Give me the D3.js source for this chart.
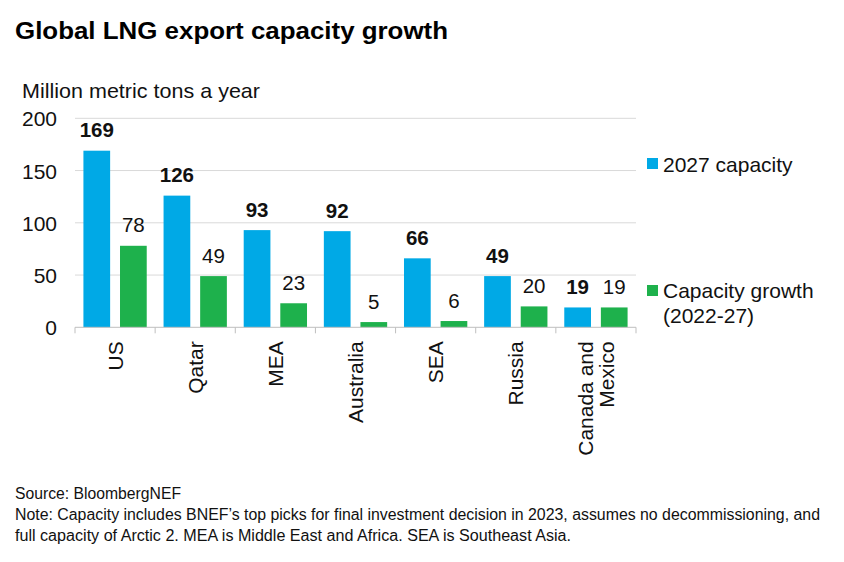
<!DOCTYPE html>
<html><head><meta charset="utf-8">
<script src="https://cdn.jsdelivr.net/npm/d3@7"></script>
<style>body{margin:0;background:#fff;}svg{display:block;font-family:"Liberation Sans",Arial,sans-serif;}</style>
</head><body>
<svg id="c" width="844" height="562"></svg>
<script>
const categories = ["US","Qatar","MEA","Australia","SEA","Russia","Canada and|Mexico"];
const capacity2027 = [169,126,93,92,66,49,19];
const growth = [78,49,23,5,6,20,19];
const yTicks = [0,50,100,150,200];
const seriesNames = ["2027 capacity","Capacity growth|(2022-27)"];
const colors = ["#00A9E6","#1EB14C"];

const svg = d3.select("#c");
const x0 = 75, x1 = 636, yB = 327.3, yT = 118.3;
const FS = 21;
const x = d3.scaleBand().domain(categories).range([x0,x1]).paddingInner(0).paddingOuter(0);
const inner = d3.scaleBand().domain([0,1]).range([0,x.bandwidth()]).paddingInner(0.27).paddingOuter(0.23);
const y = d3.scaleLinear().domain([0,200]).range([yB,yT]);

svg.append("text").attr("x",15).attr("y",39).attr("font-size",24).attr("font-weight","bold").attr("fill","#000")
  .attr("textLength",433).attr("lengthAdjust","spacingAndGlyphs")
  .text("Global LNG export capacity growth");
svg.append("text").attr("x",22).attr("y",98).attr("font-size",FS).attr("fill","#111")
  .attr("textLength",238).attr("lengthAdjust","spacingAndGlyphs").text("Million metric tons a year");

// grid
svg.append("g").selectAll("line").data(yTicks.filter(d=>d>0)).join("line")
  .attr("x1",x0).attr("x2",x1).attr("y1",d=>y(d)).attr("y2",d=>y(d))
  .attr("stroke","#d9d9d9").attr("stroke-width",1);

// y axis labels
const ya = svg.append("g").attr("transform",`translate(${x0-18},0)`)
  .call(d3.axisLeft(y).tickValues(yTicks).tickSize(0).tickPadding(0));
ya.select(".domain").remove();
ya.selectAll("text").attr("font-size",FS).attr("fill","#111").attr("font-family","Liberation Sans, Arial, sans-serif").attr("dy","0.36em");

// bars
const series = [capacity2027, growth];
series.forEach((vals,si)=>{
  const g = svg.append("g");
  g.selectAll("rect").data(categories).join("rect")
    .attr("x",(c)=>x(c)+inner(si)).attr("width",inner.bandwidth())
    .attr("y",(c,i)=>y(vals[i])).attr("height",(c,i)=>yB-y(vals[i]))
    .attr("fill",colors[si]);
  g.selectAll("text").data(categories).join("text")
    .attr("x",(c)=>x(c)+inner(si)+inner.bandwidth()/2)
    .attr("y",(c,i)=>y(vals[i])-13.5)
    .attr("text-anchor","middle").attr("font-size",FS-0.5)
    .attr("font-weight",si===0?"bold":"normal").attr("fill","#111")
    .text((c,i)=>vals[i]);
});

// x axis
const xa = svg.append("g").attr("transform",`translate(0,${yB})`);
xa.append("line").attr("x1",x0).attr("x2",x1).attr("stroke","#bfbfbf");
xa.selectAll("line.t").data(categories.concat(["end"])).join("line").attr("class","t")
  .attr("x1",(c,i)=>x0+i*x.bandwidth()).attr("x2",(c,i)=>x0+i*x.bandwidth())
  .attr("y1",0).attr("y2",6).attr("stroke","#bfbfbf");
categories.forEach(c=>{
  const lines = c.split("|");
  const cx = x(c)+x.bandwidth()/2;
  const t = xa.append("text").attr("transform",`translate(${cx},14) rotate(-90)`)
    .attr("text-anchor","end").attr("font-size",FS).attr("fill","#111");
  const n = lines.length;
  lines.forEach((l,i)=>{
    t.append("tspan").attr("x",0).attr("y",0).attr("dy",(0.36 + (i-(n-1)/2)*1.0)+"em").text(l);
  });
});

// legend
const leg = [[647,158,[172]],[647,285,[298,323]]];
seriesNames.forEach((s,i)=>{
  const [lx,ly,bases] = leg[i];
  svg.append("rect").attr("x",lx).attr("y",ly).attr("width",11).attr("height",11).attr("fill",colors[i]);
  s.split("|").forEach((l,j)=>{
    svg.append("text").attr("x",663).attr("y",bases[j]).attr("font-size",FS).attr("fill","#111").text(l);
  });
});

// footer
const foot = ["Source: BloombergNEF",
  "Note: Capacity includes BNEF\u2019s top picks for final investment decision in 2023, assumes no decommissioning, and",
  "full capacity of Arctic 2. MEA is Middle East and Africa. SEA is Southeast Asia."];
const footLen = [166, 805, 556];
foot.forEach((f,i)=>{
  svg.append("text").attr("x",15).attr("y",499+i*21).attr("font-size",16)
    .attr("textLength",footLen[i]).attr("lengthAdjust","spacingAndGlyphs")
    .attr("fill","#111").text(f);
});
</script>
</body></html>
